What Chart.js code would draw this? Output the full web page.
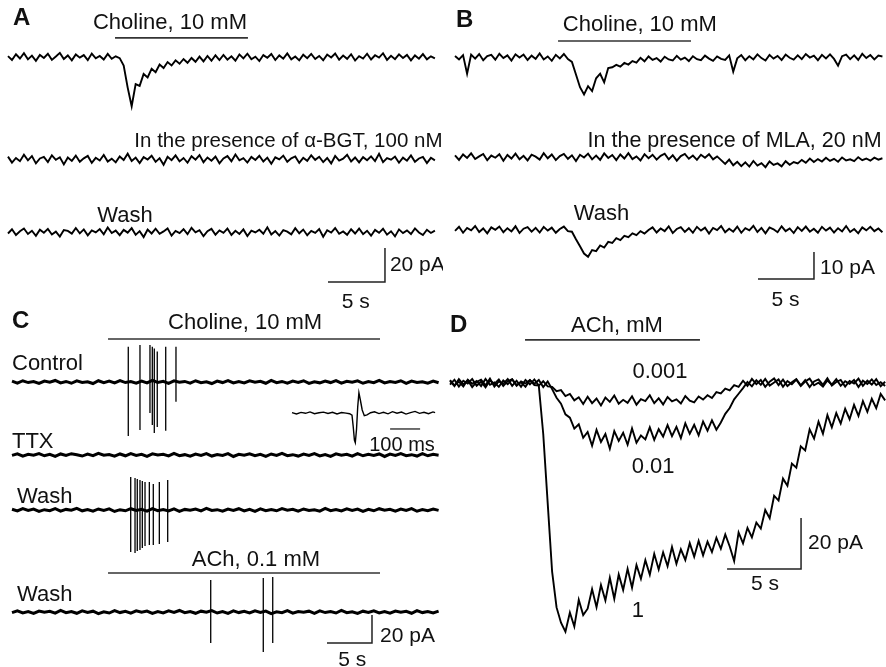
<!DOCTYPE html>
<html><head><meta charset="utf-8">
<script src="https://cdn.jsdelivr.net/npm/chart.js@4.4.1/dist/chart.umd.min.js"></script>
<style>
html,body{margin:0;padding:0;background:#fff;overflow:hidden;}
#fig{position:relative;width:886px;height:667px;overflow:hidden;background:#fff;}
.pw{position:absolute;}
.pw canvas{display:block;}
</style></head><body>
<div id="fig">
  <div class="pw" style="left:0;top:0;width:443px;height:310px"><canvas id="cA" width="443" height="310"></canvas></div>
  <div class="pw" style="left:443px;top:0;width:443px;height:310px"><canvas id="cB" width="443" height="310"></canvas></div>
  <div class="pw" style="left:0;top:305px;width:443px;height:362px"><canvas id="cC" width="443" height="362"></canvas></div>
  <div class="pw" style="left:443px;top:305px;width:443px;height:362px"><canvas id="cD" width="443" height="362"></canvas></div>
</div>
<script>
// ===================== DATA (time in s, current in pA) =====================
// ---- Panel A: choline 10 mM, alpha-BGT, wash ----
const A_dt = 0.35;
const A_control = [0.5,-1.8,1.6,-0.9,2.2,-1.4,0.8,-2.3,1.2,-0.6,1.9,-1.7,0.3,2.4,-1.2,0.9,-2.0,1.5,-0.4,1.1,-1.9,2.0,-0.8,0.6,-1.5,1.8,-1.1,0.4,-0.7,
 -5,-18,-29,-16,-17,-10,-12,-7,-9,-4.5,-6.5,-3,-5,-2,-4,-1.2,-3.4,-0.6,-2.8,0.2,-2.6,0.6,-2.2,1.0,-1.8,
 1.2,-1.6,0.4,-2.2,1.5,-0.8,1.9,-1.3,0.2,-2.4,1.1,-0.5,1.7,-1.8,0.9,-1.0,2.1,-1.4,0.3,-2.0,1.3,-0.7,1.8,-1.2,0.6,-1.9,1.4,-0.3,2.0,-1.6,0.8,-1.1,1.6,-2.1,0.5,-0.9,1.9,-1.5,1.0,-0.4,2.2,-1.7,0.7,-1.3,1.5,-0.6,1.2,-2.0,0.9,-1.0,1.7,-1.4,0.4,-0.8];
const A_bgt = [1.4,-2.1,0.6,-1.3,2.5,-0.8,1.7,-2.6,0.3,1.2,-1.8,2.2,-0.5,1.0,-3.2,0.9,-1.1,2.0,-1.6,0.4,
 1.8,-2.3,0.7,-0.9,2.4,-1.5,0.2,-2.0,1.5,-0.6,3.1,-1.2,0.8,-2.4,1.1,-0.3,1.9,-1.7,0.5,-3.4,
 1.3,-0.7,2.1,-1.4,0.6,-2.2,1.6,-0.4,2.3,-1.9,0.9,-1.0,1.4,-2.5,0.3,1.7,-1.3,2.6,-0.8,0.5,
 -2.1,1.2,-0.6,1.9,-1.5,0.8,-2.8,1.0,-0.2,2.0,-1.6,0.4,1.5,-2.3,0.7,-1.1,2.2,-0.5,1.3,-1.8,
 0.6,-2.6,1.8,-0.9,0.2,2.5,-1.4,0.9,-2.0,1.1,-0.7,1.6,-1.2,3.0,-1.9,0.5,-0.4,1.4,-2.2,0.8,
 -1.0,2.1,-1.6,0.3,1.2,-2.4,0.7,-0.8];
const A_wash = [-0.9,1.6,-1.8,0.4,2.0,-1.2,0.7,-2.3,1.3,-0.5,1.8,-1.5,0.2,-2.7,1.1,0.6,-1.0,2.3,-0.8,1.5,
 -2.0,0.9,-0.3,1.7,-1.4,2.6,-0.6,0.8,-1.9,1.2,-0.4,2.2,-1.7,0.5,-3.0,1.4,-0.9,1.9,-1.1,0.3,
 2.1,-2.2,0.6,-0.7,1.6,-1.3,2.4,-0.2,1.0,-2.5,0.4,1.8,-1.6,0.9,-0.5,2.0,-1.8,0.7,-1.2,1.5,
 -2.4,0.8,-0.3,1.3,-1.0,2.7,-1.5,0.5,-2.1,1.1,0.2,-1.4,2.2,-0.8,1.4,-1.9,0.6,-0.6,1.7,-2.8,
 1.0,-0.4,2.3,-1.1,0.3,-1.7,1.6,-0.9,2.0,-1.3,0.7,-2.2,1.2,-0.5,1.9,-1.6,0.4,-2.6,1.5,-0.7,
 0.9,-1.2,2.1,-0.3,-1.8,1.3,-0.6,0.8];
const A_choline = [9.39, 21.05];

// ---- Panel B: choline 10 mM, MLA, wash ----
const B_dt = 0.36;
const B_control = [0.4,-0.9,0.7,-6.2,0.9,-0.6,1.1,-1.2,0.3,0.8,-1.0,1.2,-0.4,0.6,-1.3,1.0,-0.2,0.9,-1.1,0.5,-0.7,1.3,-0.9,0.2,-1.4,0.8,-0.5,1.1,-0.8,
 -1.8,-6.5,-11.2,-13.9,-10.8,-12.6,-7.9,-6.2,-9.4,-4.1,-3.8,-2.9,-3.6,-2.2,-2.8,-1.5,-2.1,
 -0.3,-1.6,0.2,-1.1,-0.4,-1.7,0.1,-0.9,-1.3,0.4,-1.0,-0.2,-1.5,0.3,-0.8,-1.2,0.5,-0.6,-1.4,0.2,
 -0.7,-1.1,0.6,-5.4,-0.5,0.7,-1.2,0.3,-0.9,1.0,-0.4,-1.3,0.8,-0.6,0.4,-1.1,0.9,-0.3,-1.0,0.6,
 -0.8,1.1,-0.2,0.5,-1.2,0.8,-0.5,1.0,-0.7,-3.2,0.3,0.9,-0.8,0.6,-1.1,1.2,-0.4,0.7,-0.9,0.5,0.2];
const B_mla = [0.6,-1.1,0.9,-0.4,1.3,-0.8,0.2,1.1,-1.2,0.5,-0.3,1.0,-1.4,0.7,-0.6,1.2,-0.9,0.4,-1.3,0.8,
 0.1,-1.0,1.4,-0.5,0.9,-1.2,0.3,1.1,-0.7,0.6,-1.5,0.8,-0.2,1.2,-0.9,0.5,-1.1,1.3,-0.4,0.7,
 -1.2,0.9,-0.6,1.4,-0.8,0.2,-1.3,1.0,-0.5,0.8,-1.0,0.4,1.2,-0.9,0.6,-1.4,0.3,1.1,-0.7,0.5,
 -1.1,0.8,-0.3,1.0,-0.9,0.2,
 -1.2,-2.6,-1.0,-3.1,-1.8,-3.4,-2.0,-3.6,-1.5,-3.2,-2.3,-3.8,-1.7,-3.0,-2.4,-3.5,-1.6,-2.9,-1.9,
 -2.4,-1.1,-2.2,-0.6,-1.9,-0.8,-1.7,-0.3,-1.5,-0.7,-1.8,-0.2,-1.3,-0.9,-1.6,-0.1,-1.2,-0.6,-1.4,-0.3,-1.0,-0.5];
const B_wash = [-0.5,1.0,-1.2,0.6,-0.3,1.3,-0.9,0.4,-1.4,0.8,-0.1,1.1,-1.0,0.5,-0.7,1.2,-1.3,0.3,0.9,-0.8,0.6,-1.1,1.0,-0.4,0.7,-1.2,0.2,1.1,-0.6,
 -0.8,-3.6,-6.2,-8.9,-10.1,-7.6,-8.0,-5.9,-6.7,-4.6,-5.0,-3.2,-3.9,-2.3,-2.8,-1.4,-2.1,-0.6,-1.5,-0.2,
 0.8,-1.1,0.4,-0.6,1.2,-1.3,0.2,0.9,-0.9,0.5,-1.2,1.0,-0.4,0.7,-1.5,0.6,-0.2,1.3,-1.0,0.3,
 -0.8,1.1,-1.2,0.5,-0.3,1.4,-0.9,0.6,-1.4,0.8,0.1,-1.0,1.2,-0.6,0.4,-1.3,0.9,-0.5,1.1,-0.8,
 0.3,-1.2,1.0,-0.4,0.7,-1.1,0.5,-0.7,1.3,-0.9,0.2,-1.4,0.8,-0.3,1.0,-0.6,0.4,-1.0];
const B_choline = [9.2, 21.07];

// ---- Panel C: action currents, choline / TTX / wash / ACh ----
const C_dt = 0.6;
const C_control = [0.6,-0.8,0.9,-0.4,0.3,-1.0,0.7,-0.2,1.1,-0.6,0.4,-0.9,0.8,-0.3,0.2,-1.1,0.9,-0.5,0.6,-0.7,
 1.0,-0.4,0.3,-0.9,0.7,-0.6,1.2,-0.3,0.5,-1.0,0.8,-0.2,0.4,-0.8,0.9,-0.5,0.2,-1.1,0.7,-0.4,
 1.0,-0.7,0.3,-0.6,0.8,-0.2,0.5,-0.9,1.1,-0.5,0.4,-0.8,0.6,-0.3,0.9,-1.0,0.2,-0.6,0.7,-0.4,
 1.0,-0.8,0.5,-0.2,0.8,-0.9,0.3,-0.5,1.1,-0.7,0.4,-0.3,0.9,-1.0,0.6,-0.4,0.2,-0.8,0.7,-0.5];
const C_ttx = [-0.3,0.8,-0.9,0.5,-0.2,1.0,-0.6,0.4,-1.1,0.7,-0.4,0.9,0.1,-0.8,0.6,-0.5,1.2,-0.2,0.3,-0.9,
 0.7,-0.6,1.0,-0.3,0.5,-1.0,0.8,-0.1,0.4,-0.7,1.1,-0.5,0.2,-0.9,0.6,-0.3,1.0,-0.8,0.3,-0.4,
 0.9,-1.1,0.5,-0.2,0.8,-0.6,0.4,-1.0,0.7,-0.3,1.2,-0.5,0.2,-0.8,0.6,-0.4,0.9,-0.7,0.3,-1.0,
 0.8,-0.2,0.5,-0.9,1.0,-0.6,0.4,-0.3,0.7,-1.1,0.6,-0.4,0.9,-0.5,0.2,-0.8,1.0,-0.6,0.4,-0.2];
const C_wash1 = [0.5,-0.7,1.0,-0.3,0.6,-1.0,0.2,-0.5,0.9,-0.8,0.4,-0.2,1.1,-0.6,0.3,-0.9,0.7,-0.4,0.8,-1.1,
 0.2,-0.6,0.9,-0.3,0.5,-0.8,1.0,-0.5,0.3,-0.7,0.8,-1.0,0.4,-0.2,0.7,-0.6,1.1,-0.4,0.2,-0.9,
 0.6,-0.3,0.9,-0.7,0.4,-1.0,0.8,-0.5,0.3,-0.6,1.0,-0.2,0.5,-0.9,0.7,-0.4,0.2,-0.8,1.1,-0.5,
 0.3,-0.7,0.8,-0.3,0.6,-1.0,0.4,-0.6,0.9,-0.2,0.5,-0.8,0.7,-0.4,1.0,-0.9,0.3,-0.5,0.6,-0.3];
const C_wash2 = [-0.4,0.9,-0.6,0.3,-1.0,0.7,-0.2,0.5,-0.8,1.1,-0.5,0.4,-0.9,0.8,-0.3,0.6,-1.1,0.2,-0.7,1.0,
 -0.4,0.5,-0.8,0.9,-0.2,0.7,-1.0,0.3,-0.6,0.8,-0.3,1.1,-0.5,0.4,-0.9,0.6,-0.2,1.0,-0.7,0.3,
 -1.0,0.8,-0.4,0.5,-0.6,0.9,-0.3,0.7,-1.1,0.2,-0.5,1.0,-0.8,0.4,-0.2,0.6,-0.9,0.8,-0.4,0.3,
 -0.7,1.1,-0.5,0.2,-1.0,0.6,-0.3,0.9,-0.6,0.4,-0.8,0.7,-0.2,0.5,-0.9,1.0,-0.4,0.3,-0.7,0.6];
const C_ctrlSpikeT    = [12.92,14.22,15.33,15.59,15.81,16.14,17.08,18.22];
const C_ctrlSpikeUp   = [25.2,26.4,26.4,25.2,24.0,21.7,25.2,25.2];
const C_ctrlSpikeDown = [-38.6,-34.3,-22.1,-30.7,-36.4,-32.1,-34.8,-14.1];
const C_wash1SpikeT    = [13.19,13.67,13.92,14.22,14.48,14.78,15.26,15.70,16.37,17.30];
const C_wash1SpikeUp   = [23.6,22.9,22.1,21.4,20.7,20.0,20.0,18.6,20.0,21.4];
const C_wash1SpikeDown = [-30.0,-30.7,-29.3,-28.6,-27.1,-25.7,-25.0,-25.0,-24.3,-22.9];
const C_wash2SpikeT    = [22.08,27.92,28.97];
const C_wash2SpikeUp   = [22.9,24.3,25.0];
const C_wash2SpikeDown = [-22.1,-28.6,-22.1];
const C_choline = [10.67, 40.89];
const C_ach = [10.67, 40.89];
// inset: single action current (time in ms)
const C_insetT = [0,15,30,45,60,75,90,105,120,135,150,165,180,192,200,204,208,211,215,219,223,228,234,241,250,262,275,290,305,320,335,350,365,380,395,410,425,440,455,470,477];
const C_insetV = [0.5,-1.2,0.8,-0.4,1.5,-0.9,0.3,1.2,-0.6,0.9,-1.3,0.6,-0.2,-1.0,-3,-18,-36,-39.6,-22,8,27,17,4,-3.5,-2.5,0.4,1.6,-0.8,0.9,-1.1,1.8,-0.3,1.2,-1.4,0.6,2.1,-0.5,1.0,-0.9,1.4,0.6];

// ---- Panel D: ACh 0.001 / 0.01 / 1 mM ----
const D_dt = 0.3;
const D_ach0001 = [0.8,-1.2,1.5,-0.6,1.1,-1.6,0.4,1.3,-0.9,1.7,-1.4,0.6,-0.3,1.6,-1.1,0.9,-1.5,1.2,-0.5,1.4,-1.0,0.7,-1.3,
 -1.5,-3.2,-2.8,-5.1,-4.3,-6.8,-5.6,
 -8.2,-5.4,-7.9,-6.1,-8.8,-5.7,-7.4,-4.9,-8.1,-6.6,-7.8,-5.2,-8.5,-6.3,-7.1,-4.8,-7.9,-6.0,-8.4,-5.5,-7.2,-6.4,-8.0,-5.1,-6.9,-7.6,-5.3,
 -6.5,-4.8,-5.9,-3.6,-4.1,-2.2,-2.9,-0.8,-1.5,
 0.9,-1.1,1.6,-0.4,1.2,-1.5,0.5,1.8,-0.8,1.3,-1.2,0.3,1.5,-0.9,1.1,-1.6,0.6,1.4,-0.7,1.9,-1.0,0.4,1.2,-1.4,0.8,-0.2,1.7,-1.1,0.9,-0.6,1.5,-1.3,0.5];
const D_ach001 = [-0.6,1.3,-1.4,0.9,-0.2,1.6,-1.1,0.5,-1.7,1.0,-0.4,1.4,-1.2,0.7,1.5,-0.8,0.3,-1.5,1.1,-0.3,1.2,-1.6,0.6,
 -2.4,-5.8,-8.1,-12.3,-13.6,-17.9,-16.2,-21.5,
 -19.2,-24.6,-18.4,-23.1,-20.0,-25.8,-18.9,-22.7,-19.5,-24.2,-17.8,-23.4,-20.6,-22.1,
 -17.4,-22.3,-18.1,-21.0,-16.5,-20.8,-17.2,-21.6,-15.8,-19.9,-16.4,-20.5,-15.1,-18.7,-14.6,-18.3,
 -15.5,-12.1,-9.8,-6.4,-4.2,-2.0,
 0.4,-1.3,1.1,-0.7,1.6,-1.0,0.2,1.4,-1.5,0.8,-0.5,1.3,-1.2,0.6,1.7,-0.9,0.1,-1.4,1.0,-0.6,1.5,-1.1,0.7,-0.3,1.2,-1.6,0.9,-0.4,1.4,-0.8,0.3,-1.2];
const D_ach1 = [1.1,-0.9,0.5,-1.4,1.3,-0.3,0.8,-1.2,1.6,-0.7,0.2,-1.5,1.0,-0.5,1.4,-1.1,0.6,-0.2,1.2,-0.8,
 -1.0,-20,-47,-74,-88,-94,-97.5,-90,-95.5,-85,-91,
 -88.5,-80.8,-87.9,-79.2,-85.3,-76.4,-84.6,-75.1,-81.2,-72.9,-80.3,-71.4,-76.8,
 -69.5,-75.2,-67.0,-73.1,-66.4,-71.8,-64.3,-70.9,-65.2,-69.4,-62.8,-68.1,-61.9,-67.6,-62.2,
 -66.3,-60.7,-65.0,-59.4,-64.1,-69.8,-58.6,-62.9,-56.8,-60.5,-54.7,
 -57.1,-49.8,-53.0,-44.2,-46.1,-37.5,-40.3,-31.6,-33.2,-24.8,-26.4,-18.2,
 -21.8,-15.2,-19.9,-12.6,-17.4,-11.8,-15.9,-10.1,-14.2,-8.6,-12.9,-7.1,-11.3,-6.2,-9.9,-4.3,-6.8];
const D_ach = [5.07, 16.89];

// scale bar sizes
const SB_TIME = 5;        // s
const SB_A = 20, SB_B = 10, SB_C = 20, SB_D = 20;   // pA
const SB_INSET_MS = 100;  // ms

// ===================== LAYOUT (axis ranges, trace offsets, label anchors) =====================
const FONT = "'Liberation Sans', Arial, Helvetica, sans-serif";
const LAY = {
  A: {x:[-0.70,38.16], y:[-148.8,33.5], off:[0,-60,-102.9], stimY:11.2, sb:[33.07,-132.4]},
  B: {x:[-1.071,38.48], y:[-93.70,21.11], off:[0,-37.0,-63.9], stimY:5.93, sb:[32.05,-82.2]},
  C: {x:[-1.333,47.889], y:[-203.57,55.0], off:[0,-52.1,-91.4,-164.3], stimY:[30.7,-136.4], sb:[40,-186.4],
      xi:[-973.3,503.3], yi:[-338.67,144], insetSb:[427,-21.3]},
  D: {x:[-0.473,29.46], y:[-111.37,30.59], stimY:16.9, sb:[23.72,-72.9]}
};
const W_TRACE = 1.9, W_C = 3.0, W_SPIKE = 1.3, W_STIM = 1.6, W_SB = 1.5;

// ===================== helpers =====================
function series(vals, dt, off){ return vals.map((v,i)=>({x:Math.round(i*dt*1000)/1000, y:v+off})); }
function xy(ts, vs, off){ return ts.map((t,i)=>({x:t, y:vs[i]+off})); }
function spikeLines(ts, ups, downs, off){
  const p=[]; ts.forEach((t,i)=>{ p.push({x:t,y:off+ups[i]},{x:t,y:off+downs[i]},{x:t,y:null}); }); return p;
}
function hbar(range, v){ return [{x:range[0],y:v},{x:range[1],y:v}]; }
function scaleBar(corner, dT, dI){ return [{x:corner[0]-dT,y:corner[1]},{x:corner[0],y:corner[1]},{x:corner[0],y:corner[1]+dI}]; }
function ds(data, w, color, extra){
  return Object.assign({data, borderColor:color||'#000', borderWidth:w, pointRadius:0, pointHoverRadius:0,
    fill:false, tension:0, spanGaps:false, borderJoinStyle:'miter', borderCapStyle:'butt'}, extra||{});
}
function textPlugin(items){
  return { id:'figText', afterDatasetsDraw(chart){
    const ctx = chart.ctx;
    items.forEach(it=>{
      const xs = chart.scales[it.xa||'x'], ys = chart.scales[it.ya||'y'];
      ctx.save();
      ctx.font = it.font || ("22px " + FONT);
      ctx.fillStyle = '#111';
      ctx.textAlign = it.align || 'center';
      ctx.textBaseline = 'middle';
      ctx.fillText(it.t, xs.getPixelForValue(it.x), ys.getPixelForValue(it.y));
      ctx.restore();
    });
  }};
}
function makeChart(id, L, datasets, items, extraScales){
  const scales = {
    x:{type:'linear', min:L.x[0], max:L.x[1], display:false},
    y:{type:'linear', min:L.y[0], max:L.y[1], display:false}
  };
  Object.assign(scales, extraScales||{});
  return new Chart(document.getElementById(id), {
    type:'line',
    data:{datasets},
    options:{
      responsive:false, animation:false, devicePixelRatio:1, events:[],
      layout:{padding:0},
      plugins:{legend:{display:false}, tooltip:{enabled:false}, title:{display:false}},
      scales
    },
    plugins:[textPlugin(items)]
  });
}
const BOLD = "bold 24px " + FONT;
const SBF = "21px " + FONT;

// ===================== Panel A =====================
makeChart('cA', LAY.A, [
  ds(series(A_control, A_dt, LAY.A.off[0]), W_TRACE),
  ds(series(A_bgt, A_dt, LAY.A.off[1]), W_TRACE),
  ds(series(A_wash, A_dt, LAY.A.off[2]), W_TRACE),
  ds(hbar(A_choline, LAY.A.stimY), W_STIM, '#333'),
  ds(scaleBar(LAY.A.sb, SB_TIME, SB_A), W_SB, '#222')
], [
  {t:'A', x:0.44, y:22.6, align:'left', font:BOLD},
  {t:'Choline, 10 mM', x:14.21, y:19.8},
  {t:'In the presence of \u03b1-BGT, 100 nM', x:24.6, y:-49.7, font:"20.5px " + FONT},
  {t:'Wash', x:10.26, y:-93.5},
  {t:'20 pA', x:33.5, y:-122.4, align:'left', font:SBF},
  {t:'5 s', x:30.5, y:-144.1, font:SBF}
]);

// ===================== Panel B =====================
makeChart('cB', LAY.B, [
  ds(series(B_control, B_dt, LAY.B.off[0]), W_TRACE),
  ds(series(B_mla, B_dt, LAY.B.off[1]), W_TRACE),
  ds(series(B_wash, B_dt, LAY.B.off[2]), W_TRACE),
  ds(hbar(B_choline, LAY.B.stimY), W_STIM, '#333'),
  ds(scaleBar(LAY.B.sb, SB_TIME, SB_B), W_SB, '#222')
], [
  {t:'B', x:0.09, y:13.7, align:'left', font:BOLD},
  {t:'Choline, 10 mM', x:16.5, y:11.7},
  {t:'In the presence of MLA, 20 nM', x:24.96, y:-31.3, font:"21.5px " + FONT},
  {t:'Wash', x:13.08, y:-57.96},
  {t:'10 pA', x:32.59, y:-78.1, align:'left', font:SBF},
  {t:'5 s', x:29.5, y:-90, font:SBF}
]);

// ===================== Panel C =====================
const oC = LAY.C.off;
makeChart('cC', LAY.C, [
  ds(series(C_control, C_dt, oC[0]), W_C),
  ds(spikeLines(C_ctrlSpikeT, C_ctrlSpikeUp, C_ctrlSpikeDown, oC[0]), W_SPIKE),
  ds(series(C_ttx, C_dt, oC[1]), W_C),
  ds(series(C_wash1, C_dt, oC[2]), W_C),
  ds(spikeLines(C_wash1SpikeT, C_wash1SpikeUp, C_wash1SpikeDown, oC[2]), W_SPIKE),
  ds(series(C_wash2, C_dt, oC[3]), W_C),
  ds(spikeLines(C_wash2SpikeT, C_wash2SpikeUp, C_wash2SpikeDown, oC[3]), W_SPIKE),
  ds(hbar(C_choline, LAY.C.stimY[0]), W_STIM, '#333'),
  ds(hbar(C_ach, LAY.C.stimY[1]), W_STIM, '#333'),
  ds(scaleBar(LAY.C.sb, SB_TIME, SB_C), W_SB, '#222'),
  ds(xy(C_insetT, C_insetV, 0), 1.4, '#000', {xAxisID:'xi', yAxisID:'yi'}),
  ds(hbar([LAY.C.insetSb[0]-SB_INSET_MS, LAY.C.insetSb[0]], LAY.C.insetSb[1]), 1.3, '#222', {xAxisID:'xi', yAxisID:'yi'})
], [
  {t:'C', x:0, y:43.6, align:'left', font:BOLD},
  {t:'Choline, 10 mM', x:25.9, y:42.5},
  {t:'Control', x:0, y:12.9, align:'left'},
  {t:'TTX', x:0, y:-42.5, align:'left'},
  {t:'Wash', x:0.56, y:-81.8, align:'left'},
  {t:'ACh, 0.1 mM', x:27.1, y:-127.1},
  {t:'Wash', x:0.56, y:-152.1, align:'left'},
  {t:'20 pA', x:40.9, y:-181.4, align:'left', font:SBF},
  {t:'5 s', x:37.8, y:-198.6, font:SBF},
  {t:'100 ms', x:366.7, y:-42.7, xa:'xi', ya:'yi', font:"20px " + FONT}
], {
  xi:{type:'linear', axis:'x', min:LAY.C.xi[0], max:LAY.C.xi[1], display:false},
  yi:{type:'linear', axis:'y', min:LAY.C.yi[0], max:LAY.C.yi[1], display:false}
});

// ===================== Panel D =====================
makeChart('cD', LAY.D, [
  ds(series(D_ach0001, D_dt, 0), W_TRACE),
  ds(series(D_ach001, D_dt, 0), W_TRACE),
  ds(series(D_ach1, D_dt, 0), W_TRACE),
  ds(hbar(D_ach, LAY.D.stimY), W_STIM, '#333'),
  ds(scaleBar(LAY.D.sb, SB_TIME, SB_D), W_SB, '#222')
], [
  {t:'D', x:0, y:22.7, align:'left', font:BOLD},
  {t:'ACh, mM', x:11.28, y:22.5},
  {t:'0.001', x:14.19, y:4.5},
  {t:'0.01', x:13.72, y:-33.1},
  {t:'1', x:12.7, y:-89.2},
  {t:'20 pA', x:24.19, y:-62.7, align:'left', font:SBF},
  {t:'5 s', x:21.28, y:-79, font:SBF}
]);
</script>
</body></html>
